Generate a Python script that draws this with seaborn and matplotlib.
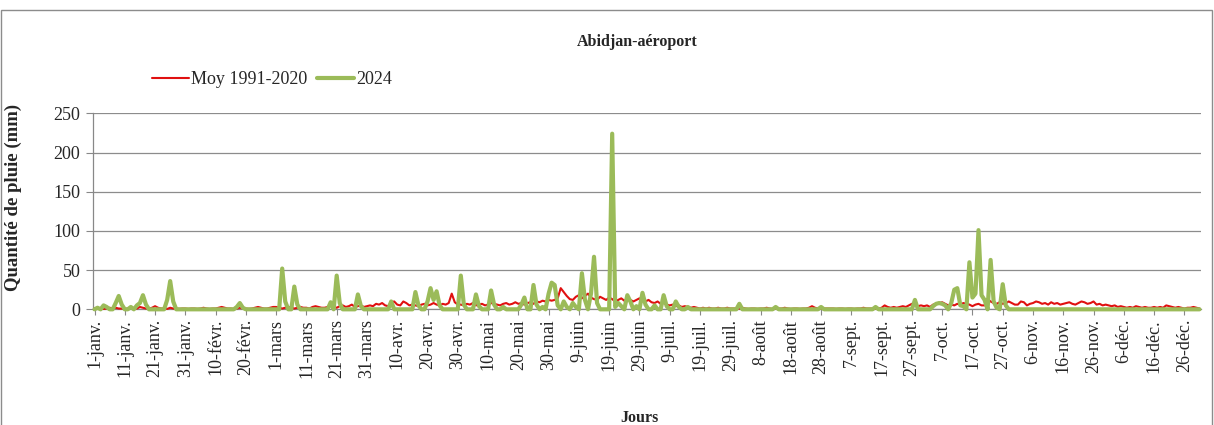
import numpy as np
import pandas as pd
import matplotlib
matplotlib.use('Agg')
import matplotlib.pyplot as plt
import seaborn as sns
from matplotlib.patches import Rectangle

# Moyenne 1991-2020 (mm/jour), un tableau par mois
moy_jan = [1,2,1,0.5,1,2,1,2,1,1, 0.5,1,2,1,1,3,2,1,1,2, 4,2,1,1,0.5,2,1,1,0.5,1, 1]
moy_fev = [0.5,1,1,0.5,1,2,1,0.5,1,1, 2,3,2,1,1,0.5,1,2,1,1, 0.5,1,2,3,2,1,1,2,3]
moy_mar = [3,2,1,2,3,2,1,2,3,2, 2,1,3,4,3,2,2,3,5,3, 2,4,5,3,4,6,3,4,5,3, 4]
moy_avr = [5,4,7,6,8,5,4,9,10,6, 5,10,8,5,6,5,4,6,7,5, 6,8,6,5,7,6,8,20,9,6]
moy_mai = [6,5,7,6,8,5,6,7,5,6, 8,7,6,5,7,8,6,7,9,7, 8,6,8,9,7,10,9,11,10,12, 11]
moy_jun = [12,14,27,22,17,13,12,16,18,14, 17,20,15,13,12,16,14,12,15,13, 10,12,14,11,13,12,10,12,14,11]
moy_jul = [10,12,9,8,10,7,8,6,5,6, 4,5,3,4,3,2,3,2,1,2, 1,2,1,1,2,1,1,2,1,1, 1]
moy_aou = [1,2,1,0.5,1,1,0.5,1,1,2, 1,0.5,1,1,1,2,1,0.5,1,1, 0.5,1,1,2,4,2,1,0.5,1,1, 1]
moy_sep = [1,0.5,1,1,0.5,1,1,0.5,1,1, 2,1,1,1,0.5,1,2,5,3,2, 3,2,3,4,3,5,7,6,4,5]
moy_oct = [4,5,3,6,7,8,9,7,5,6, 5,7,6,8,7,6,4,6,7,5, 5,13,10,8,7,9,7,8,10,8, 6]
moy_nov = [6,10,9,5,7,8,10,9,7,8, 6,9,7,8,6,7,8,9,7,6, 8,10,9,7,8,10,6,7,5,6]
moy_dec = [5,4,5,3,4,3,2,3,2,4, 3,2,3,2,2,3,2,3,2,5, 4,3,2,3,2,1,2,2,3,2, 1]

# 2024 : jours de pluie (index depuis le 1er janv.) et hauteurs, les autres jours = 0
jours_2024 = [1,3,4,7,8,9,12,14,15,16,17,24,25,26,47,48,49,62,63,66,67,78,80,81,87,88,
              98,106,107,110,111,112,113,114,121,122,126,127,131,132,135,141,142,145,146,
              148,150,151,152,153,155,156,158,159,161,162,164,165,166,171,172,173,174,176,
              177,179,181,182,185,188,189,192,193,196,213,225,240,258,271,277,278,279,280,
              281,283,284,285,286,287,289,290,291,292,293,294,296,297,298,300,301]
pluie_2024 = [2,5,3,8,17,6,3,5,8,18,6,12,36,10,3,8,2,52,10,29,6,9,43,8,19,4,
              10,22,5,10,27,12,23,5,43,6,19,4,24,6,3,6,15,31,6,
              3,20,34,31,5,10,3,8,3,46,12,20,67,8,224,3,8,4,18,
              10,4,21,6,5,18,4,10,3,3,7,3,3,3,12,4,7,8,7,
              5,8,25,27,5,4,60,15,20,101,18,12,63,10,2,32,5]

tick_labels = ['1-janv.','11-janv.','21-janv.','31-janv.','10-févr.','20-févr.','1-mars',
               '11-mars','21-mars','31-mars','10-avr.','20-avr.','30-avr.','10-mai','20-mai',
               '30-mai','9-juin','19-juin','29-juin','9-juil.','19-juil.','29-juil.','8-août',
               '18-août','28-août','7-sept.','17-sept.','27-sept.','7-oct.','17-oct.','27-oct.',
               '6-nov.','16-nov.','26-nov.','6-déc.','16-déc.','26-déc.']

moy = moy_jan+moy_fev+moy_mar+moy_avr+moy_mai+moy_jun+moy_jul+moy_aou+moy_sep+moy_oct+moy_nov+moy_dec
ndays = len(moy)
an2024 = np.zeros(ndays)
an2024[jours_2024] = pluie_2024
df = pd.DataFrame({'jour': np.arange(ndays), 'moy': moy, 'an2024': an2024})

sns.set_style("white")
plt.rcParams['font.family'] = ['Liberation Serif', 'DejaVu Serif']

fig = plt.figure(figsize=(12.14, 4.25), dpi=100)
ax = fig.add_axes([0.0766, 0.2722, 0.9127, 0.4612])

red = '#E01010'
green = '#9BBB59'
sns.lineplot(x='jour', y='moy', data=df, color=red, linewidth=1.5, ax=ax, label='Moy 1991-2020',
             zorder=3, clip_on=False)
sns.lineplot(x='jour', y='an2024', data=df, color=green, linewidth=3.0, ax=ax, label='2024',
             zorder=4, clip_on=False)
for ln in ax.get_lines():
    ln.set_solid_joinstyle('round')
    ln.set_solid_capstyle('round')

ax.set_xlim(-0.5, ndays - 0.5)
ax.set_ylim(0, 250)
ax.set_yticks(range(0, 251, 50))
ax.set_xticks(range(0, 361, 10))
ax.set_xticklabels(tick_labels, rotation=90, fontsize=13)
ax.tick_params(axis='y', labelsize=13, length=5, color='#888888', pad=4, left=True)
ax.tick_params(axis='x', length=4, color='#888888', pad=3, bottom=True)
ax.yaxis.grid(True, color='#8c8c8c', linewidth=0.9)
ax.set_axisbelow(True)
for s in ['top', 'right']:
    ax.spines[s].set_visible(False)
for s in ['left', 'bottom']:
    ax.spines[s].set_color('#888888')
    ax.spines[s].set_linewidth(0.9)
ax.set_xlabel('')
ax.set_ylabel('Quantité de pluie (mm)', fontsize=13.5, fontweight='bold')
ax.yaxis.set_label_coords(-0.064, 0.57)

fig.text(0.525, 1 - 42/425, 'Abidjan-aéroport', ha='center', va='center', fontsize=11.5, fontweight='bold')
fig.text(0.527, 1 - 418/425, 'Jours', ha='center', va='center', fontsize=11.5, fontweight='bold')

ax.legend(loc='center', bbox_to_anchor=(272/1214, 1 - 80/425), bbox_transform=fig.transFigure,
          ncol=2, frameon=False, fontsize=13, handlelength=2.05, handletextpad=0.15,
          columnspacing=0.5)

fig.patches.append(Rectangle((0.001, -0.01), 0.997, 0.986, transform=fig.transFigure,
                             fill=False, edgecolor='#8c8c8c', linewidth=1))

plt.savefig('out.png', dpi=100)
